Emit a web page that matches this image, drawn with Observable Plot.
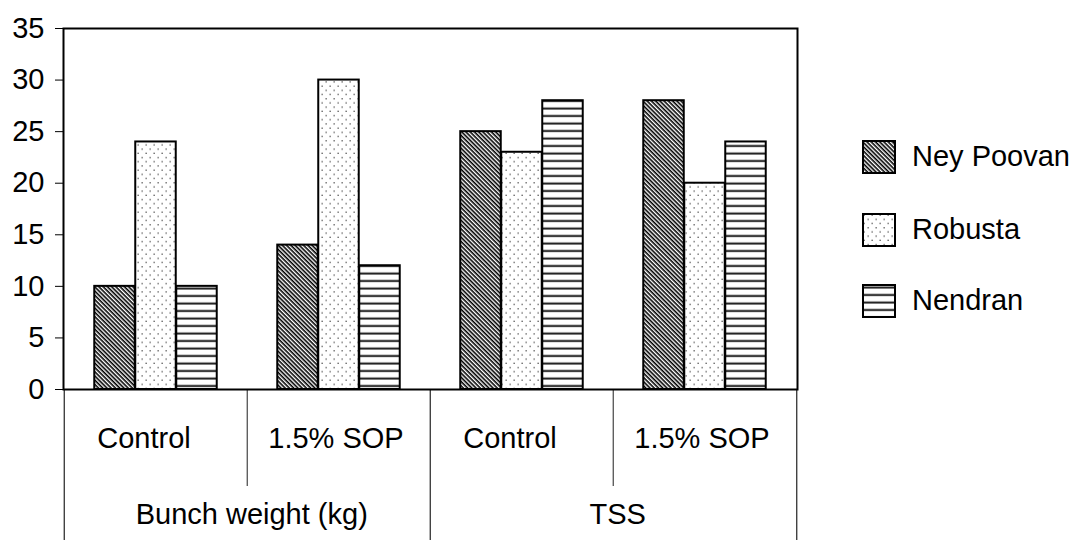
<!DOCTYPE html>
<html>
<head>
<meta charset="utf-8">
<script src="https://cdn.jsdelivr.net/npm/d3@7"></script>
<script src="https://cdn.jsdelivr.net/npm/@observablehq/plot@0.6"></script>
<style>
  body { margin: 0; background: white; }
  #wrap { position: relative; width: 1073px; height: 540px; font-family: "Liberation Sans", Arial, sans-serif; }
  .leg { position: absolute; left: 862px; height: 34px; display: flex; align-items: center; font-size: 29px; color: black; white-space: nowrap; }
  .leg svg { margin-right: 16px; display: block; }
</style>
</head>
<body>
<svg width="0" height="0" style="position:absolute">
  <defs>
    <pattern id="pNey" patternUnits="userSpaceOnUse" width="6" height="3" patternTransform="rotate(45)">
      <rect width="6" height="3" fill="white"/>
      <rect width="6" height="1.6" fill="black"/>
    </pattern>
    <pattern id="pRob" patternUnits="userSpaceOnUse" width="8" height="8.4">
      <rect width="8" height="8.4" fill="white"/>
      <rect x="1.5" y="1.5" width="1.3" height="1.3" fill="#555"/>
      <rect x="5.5" y="5.7" width="1.3" height="1.3" fill="#555"/>
    </pattern>
    <pattern id="pNen" patternUnits="userSpaceOnUse" width="8" height="7.5">
      <rect width="8" height="7.5" fill="white"/>
      <rect y="2.5" width="8" height="2" fill="#1a1a1a"/>
    </pattern>
  </defs>
</svg>
<div id="wrap"></div>
<script>
const metrics = ["Bunch weight (kg)", "TSS"];
const treatments = ["Control", "1.5% SOP"];
const series = ["Ney Poovan", "Robusta", "Nendran"];
const neyPoovan = [10, 14, 25, 28];
const robusta = [24, 30, 23, 20];
const nendran = [10, 12, 28, 24];
const yTicks = [0, 5, 10, 15, 20, 25, 30, 35];
const patterns = ["url(#pNey)", "url(#pRob)", "url(#pNen)"];

const groups = [];
metrics.forEach(m => treatments.forEach(t => groups.push({key: m + "|" + t, metric: m, treatment: t})));
const seriesValues = [neyPoovan, robusta, nendran];
const data = [];
seriesValues.forEach((vals, si) => vals.forEach((v, gi) => data.push({key: groups[gi].key, series: series[si], value: v})));
const metricRows = metrics.map(m => ({metric: m, first: groups.find(g => g.metric === m).key}));

const W = 1073, H = 540, mL = 63, mR = 276, mT = 28, mB = 151;
const bw = (W - mL - mR) / groups.length;
const barW = bw * 0.2234;
const pad = (bw - 3 * barW) / 2;
const plotH = H - mT - mB;
const FS = 29;

const barMarks = series.map((s, i) => Plot.barY(data.filter(d => d.series === s), {
  x: "key", y: "value", fill: patterns[i], stroke: "black", strokeWidth: 2,
  insetLeft: pad + i * barW, insetRight: pad + (2 - i) * barW
}));

const leftEdges = groups.map((g, i) => ({key: g.key, long: i % 2 === 0}));

const chart = Plot.plot({
  width: W, height: H,
  marginLeft: mL, marginRight: mR, marginTop: mT, marginBottom: mB,
  style: {fontFamily: "Liberation Sans, Arial, sans-serif", fontSize: FS + "px", background: "white", color: "black"},
  x: {domain: groups.map(g => g.key), padding: 0, axis: null},
  y: {domain: [0, 35], ticks: yTicks, tickSize: 8, tickPadding: 11, label: null},
  marks: [
    ...barMarks,
    Plot.ruleX(leftEdges.filter(d => d.long), {x: "key", dx: -bw / 2, stroke: "#222", strokeWidth: 1.2, insetTop: plotH, insetBottom: -mB}),
    Plot.ruleX(leftEdges.filter(d => !d.long), {x: "key", dx: -bw / 2, stroke: "#444", strokeWidth: 1.2, insetTop: plotH, insetBottom: -97}),
    Plot.ruleX([groups[groups.length - 1].key], {dx: bw / 2, stroke: "#222", strokeWidth: 1.2, insetTop: plotH, insetBottom: -mB}),
    Plot.frame({stroke: "black", strokeWidth: 2}),
    Plot.text(groups.filter(g => g.treatment === treatments[0]), {x: "key", text: "treatment", frameAnchor: "bottom", dx: -12, dy: 58, fontSize: FS, fill: "black"}),
    Plot.text(groups.filter(g => g.treatment === treatments[1]), {x: "key", text: "treatment", frameAnchor: "bottom", dx: -3, dy: 58, fontSize: FS, fill: "black"}),
    Plot.text(metricRows, {x: "first", text: "metric", frameAnchor: "bottom", dx: bw / 2 + 4, dy: 134, fontSize: FS, fill: "black"})
  ]
});
const wrap = document.getElementById("wrap");
wrap.appendChild(chart);

const legendCenters = [156.5, 229.5, 300.5];
series.forEach((s, i) => {
  const div = document.createElement("div");
  div.className = "leg";
  div.style.top = (legendCenters[i] - 17) + "px";
  div.innerHTML = `<svg width="34" height="34"><rect x="1" y="1" width="32" height="32" fill="${patterns[i]}" stroke="black" stroke-width="2"/></svg><span>${s}</span>`;
  wrap.appendChild(div);
});
</script>
</body>
</html>
